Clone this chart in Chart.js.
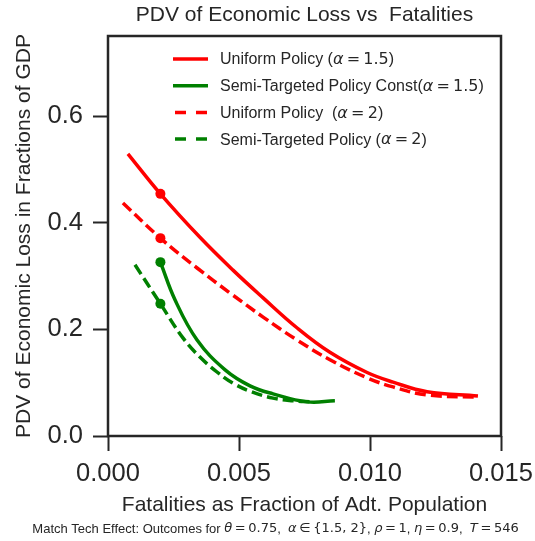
<!DOCTYPE html>
<html>
<head>
<meta charset="utf-8">
<script src="https://cdn.jsdelivr.net/npm/chart.js@4.4.1/dist/chart.umd.min.js"></script>
<style>
  html, body { margin: 0; padding: 0; background: #fff; }
</style>
</head>
<body>
<canvas id="chart" width="535" height="541"></canvas>
<script>
// tick labels
var xTicks = [0, 0.005, 0.010, 0.015];
var yTicks = [0, 0.2, 0.4, 0.6];
// marked point on every curve
var markX = 0.002;

// Uniform Policy (alpha = 1.5)
var uniform15X = [0.00076, 0.002, 0.0035, 0.00477, 0.00592, 0.00721, 0.00847, 0.00989, 0.01088, 0.01218, 0.01412];
var uniform15Y = [0.529, 0.454, 0.373, 0.311, 0.259, 0.203, 0.157, 0.119, 0.101, 0.083, 0.075];

// Semi-Targeted Policy Const (alpha = 1.5)
var semi15X = [0.002, 0.00256, 0.0034, 0.00447, 0.00542, 0.0063, 0.0076, 0.00866];
var semi15Y = [0.326, 0.255, 0.180, 0.124, 0.094, 0.079, 0.064, 0.066];

// Uniform Policy (alpha = 2)
var uniform2X = [0.00057, 0.002, 0.0034, 0.00466, 0.00592, 0.00721, 0.00847, 0.00989, 0.01088, 0.01218, 0.01412];
var uniform2Y = [0.437, 0.371, 0.315, 0.268, 0.223, 0.180, 0.143, 0.109, 0.092, 0.077, 0.073];

// Semi-Targeted Policy (alpha = 2)
var semi2X = [0.00103, 0.002, 0.00286, 0.00351, 0.00416, 0.00477, 0.00542, 0.0063, 0.00706, 0.00779];
var semi2Y = [0.321, 0.248, 0.184, 0.148, 0.120, 0.099, 0.084, 0.071, 0.066, 0.064];

// text between $ signs is set like matplotlib mathtext
var seriesLabels = [
  'Uniform Policy ($α=1.5$)',
  'Semi-Targeted Policy Const($α=1.5$)',
  'Uniform Policy  ($α=2$)',
  'Semi-Targeted Policy ($α=2$)'
];
var footerText = 'Match Tech Effect: Outcomes for $θ=0.75$,  $α∈{1.5, 2}$, $ρ=1$, $η=0.9$,  $T=546$';

var textColor = '#262626';
var fontFamily = '"Liberation Sans", Arial, sans-serif';
var mathFamily = '"DejaVu Sans", sans-serif';

function toPoints(xs, ys) {
  return xs.map(function (x, i) { return { x: x, y: ys[i] }; });
}

function makeDataset(label, xs, ys, color, dashed) {
  return {
    label: label,
    data: toPoints(xs, ys),
    borderColor: color,
    backgroundColor: color,
    borderWidth: 3.5,
    borderDash: dashed ? [11, 5] : [],
    fill: false,
    tension: 0.4,
    pointRadius: function (c) { return c.raw && c.raw.x === markX ? 5 : 0; },
    pointHoverRadius: 0,
    pointBorderWidth: 0
  };
}

// draw a string, switching to a math font inside $...$
function drawRich(ctx, str, x, y, size, align) {
  var segs = [];
  str.split('$').forEach(function (part, k) {
    if (k % 2 === 0) {
      if (part) segs.push({ t: part, f: size + 'px ' + fontFamily, pad: 0 });
    } else {
      part.split('').forEach(function (ch) {
        if (ch === '=' || ch === '∈') segs.push({ t: ch, f: size + 'px ' + mathFamily, pad: 0.2 * size });
        else if (/[A-Za-z\u03b1-\u03c9]/.test(ch)) segs.push({ t: ch, f: 'italic ' + size + 'px ' + mathFamily, pad: 0 });
        else segs.push({ t: ch, f: size + 'px ' + mathFamily, pad: 0 });
      });
    }
  });
  var total = 0;
  segs.forEach(function (s) {
    ctx.font = s.f;
    s.w = ctx.measureText(s.t).width + 2 * s.pad;
    total += s.w;
  });
  var cx = align === 'center' ? x - total / 2 : x;
  ctx.textAlign = 'left';
  ctx.textBaseline = 'middle';
  segs.forEach(function (s) {
    ctx.font = s.f;
    ctx.fillText(s.t, cx + s.pad, y);
    cx += s.w;
  });
}

// frame around the plot area (all four spines) and the footer line
var framePlugin = {
  id: 'frame',
  afterDraw: function (chart) {
    var a = chart.chartArea, ctx = chart.ctx;
    ctx.save();
    ctx.strokeStyle = textColor;
    ctx.lineWidth = 2.5;
    ctx.strokeRect(a.left, a.top, a.right - a.left, a.bottom - a.top);
    ctx.fillStyle = textColor;
    drawRich(ctx, footerText, chart.width * 0.515, chart.height - 12, 13, 'center');
    ctx.restore();
  }
};

// legend drawn inside the plot area, upper right, as in matplotlib
var innerLegend = {
  id: 'innerLegend',
  afterDatasetsDraw: function (chart) {
    var a = chart.chartArea, ctx = chart.ctx;
    var x0 = a.right - 328, y0 = a.top + 23, rowGap = 26.7;
    ctx.save();
    chart.data.datasets.forEach(function (ds, i) {
      var y = y0 + i * rowGap;
      var dashed = ds.borderDash.length > 0;
      ctx.strokeStyle = ds.borderColor;
      ctx.lineWidth = 3.5;
      ctx.setLineDash(dashed ? [11, 10] : []);
      ctx.beginPath();
      ctx.moveTo(x0 + (dashed ? 2 : 0), y);
      ctx.lineTo(x0 + 35, y);
      ctx.stroke();
      ctx.setLineDash([]);
      ctx.fillStyle = textColor;
      drawRich(ctx, ds.label, x0 + 47, y + 1, 16, 'left');
    });
    ctx.restore();
  }
};

new Chart(document.getElementById('chart'), {
  type: 'line',
  data: {
    datasets: [
      makeDataset(seriesLabels[0], uniform15X, uniform15Y, '#ff0000', false),
      makeDataset(seriesLabels[1], semi15X, semi15Y, '#008000', false),
      makeDataset(seriesLabels[2], uniform2X, uniform2Y, '#ff0000', true),
      makeDataset(seriesLabels[3], semi2X, semi2Y, '#008000', true)
    ]
  },
  options: {
    responsive: false,
    animation: false,
    layout: { padding: { left: 0, right: 34, top: 0, bottom: 21.4 } },
    plugins: {
      legend: { display: false },
      tooltip: { enabled: false },
      title: {
        display: true,
        text: 'PDV of Economic Loss vs  Fatalities',
        fullSize: false,
        color: textColor,
        font: { family: fontFamily, size: 21, weight: 'normal' },
        padding: { top: 2.4, bottom: 8.4 }
      }
    },
    scales: {
      x: {
        type: 'linear',
        min: 0,
        max: 0.015,
        afterBuildTicks: function (s) { s.ticks = xTicks.map(function (v) { return { value: v }; }); },
        afterFit: function (s) { s.height = 83.6; s.paddingLeft = 0; s.paddingRight = 0; },
        border: { display: false },
        grid: { drawOnChartArea: false, drawTicks: true, tickLength: 15, tickColor: textColor, tickWidth: 2 },
        ticks: {
          color: textColor,
          font: { family: fontFamily, size: 25.5 },
          padding: 7.7,
          maxRotation: 0,
          callback: function (v) { return Number(v).toFixed(3); }
        },
        title: {
          display: true,
          text: 'Fatalities as Fraction of Adt. Population',
          color: textColor,
          font: { family: fontFamily, size: 21 },
          padding: { top: 0, bottom: 1.4 }
        }
      },
      y: {
        type: 'linear',
        min: 0,
        max: 0.75,
        afterBuildTicks: function (s) { s.ticks = yTicks.map(function (v) { return { value: v }; }); },
        afterFit: function (s) { s.width = 108; },
        border: { display: false },
        grid: { drawOnChartArea: false, drawTicks: true, tickLength: 15, tickColor: textColor, tickWidth: 2 },
        ticks: {
          color: textColor,
          font: { family: fontFamily, size: 25.5 },
          padding: 10,
          callback: function (v) { return Number(v).toFixed(1); }
        },
        title: {
          display: true,
          text: 'PDV of Economic Loss in Fractions of GDP',
          color: textColor,
          font: { family: fontFamily, size: 21 },
          padding: { top: 11.5, bottom: 0 }
        }
      }
    }
  },
  plugins: [framePlugin, innerLegend]
});
</script>
</body>
</html>
